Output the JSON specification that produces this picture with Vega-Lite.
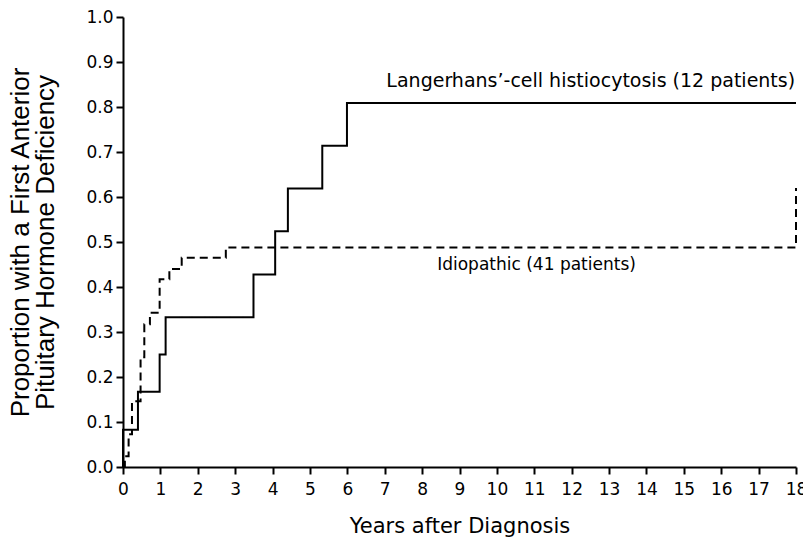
{
  "$schema": "https://vega.github.io/schema/vega-lite/v6.json",
  "autosize": "none",
  "width": 673,
  "height": 450,
  "padding": {"left": 123, "top": 17, "right": 7, "bottom": 74},
  "background": "white",
  "config": {
    "view": {"stroke": null},
    "font": "DejaVu Sans",
    "axis": {
      "domainColor": "black", "domainWidth": 2, "tickColor": "black", "tickWidth": 2,
      "labelColor": "black", "titleColor": "black", "grid": false,
      "labelFont": "DejaVu Sans", "titleFont": "DejaVu Sans",
      "labelFontSize": 17, "titleFontSize": 21, "titleFontWeight": "normal"
    }
  },
  "datasets": {
    "curves": [
      {"group": "LCH", "t": 0, "p": 0},
      {"group": "LCH", "t": 0, "p": 0.083},
      {"group": "LCH", "t": 0.4, "p": 0.167},
      {"group": "LCH", "t": 0.98, "p": 0.25},
      {"group": "LCH", "t": 1.14, "p": 0.333},
      {"group": "LCH", "t": 3.49, "p": 0.428},
      {"group": "LCH", "t": 4.07, "p": 0.524},
      {"group": "LCH", "t": 4.41, "p": 0.619},
      {"group": "LCH", "t": 5.33, "p": 0.714},
      {"group": "LCH", "t": 5.99, "p": 0.809},
      {"group": "LCH", "t": 18, "p": 0.809},
      {"group": "Idiopathic", "t": 0, "p": 0},
      {"group": "Idiopathic", "t": 0.05, "p": 0.024},
      {"group": "Idiopathic", "t": 0.15, "p": 0.073},
      {"group": "Idiopathic", "t": 0.24, "p": 0.146},
      {"group": "Idiopathic", "t": 0.47, "p": 0.244},
      {"group": "Idiopathic", "t": 0.57, "p": 0.317},
      {"group": "Idiopathic", "t": 0.72, "p": 0.343},
      {"group": "Idiopathic", "t": 0.98, "p": 0.417},
      {"group": "Idiopathic", "t": 1.24, "p": 0.44},
      {"group": "Idiopathic", "t": 1.57, "p": 0.465},
      {"group": "Idiopathic", "t": 2.75, "p": 0.488},
      {"group": "Idiopathic", "t": 18, "p": 0.62}
    ],
    "labels": [
      {"t": 12.51, "p": 0.857, "text": "Langerhans’-cell histiocytosis (12 patients)", "size": "big"},
      {"t": 11.06, "p": 0.449, "text": "Idiopathic (41 patients)", "size": "small"}
    ]
  },
  "encoding": {
    "x": {
      "field": "t", "type": "quantitative",
      "scale": {"domain": [0, 18], "nice": false, "zero": false},
      "axis": {"values": [0,1,2,3,4,5,6,7,8,9,10,11,12,13,14,15,16,17,18], "tickSize": 7, "labelPadding": 7, "labelOverlap": false, "title": "Years after Diagnosis", "titlePadding": 18, "labelFlush": false}
    },
    "y": {
      "field": "p", "type": "quantitative",
      "scale": {"domain": [0, 1], "nice": false},
      "axis": {"values": [0,0.1,0.2,0.3,0.4,0.5,0.6,0.7,0.8,0.9,1.0], "format": ".1f", "tickSize": 7, "labelPadding": 3, "title": ["Proportion with a First Anterior", "Pituitary Hormone Deficiency"], "titleFont": "Liberation Sans", "titleFontSize": 26, "titleLineHeight": 25, "titlePadding": 27, "labelFlush": false}
    }
  },
  "layer": [
    {
      "data": {"name": "curves"},
      "mark": {"type": "line", "interpolate": "step-after", "color": "black", "strokeWidth": 2},
      "encoding": {
        "strokeDash": {
          "field": "group", "type": "nominal",
          "scale": {"domain": ["LCH", "Idiopathic"], "range": [[1, 0], [8, 5]]},
          "legend": null
        },
        "detail": {"field": "group"}
      }
    },
    {
      "data": {"name": "labels"},
      "mark": {"type": "text", "color": "black", "align": "center", "baseline": "middle", "font": "DejaVu Sans"},
      "encoding": {
        "text": {"field": "text"},
        "size": {"field": "size", "type": "nominal", "scale": {"domain": ["big", "small"], "range": [19, 17]}, "legend": null}
      }
    }
  ]
}
